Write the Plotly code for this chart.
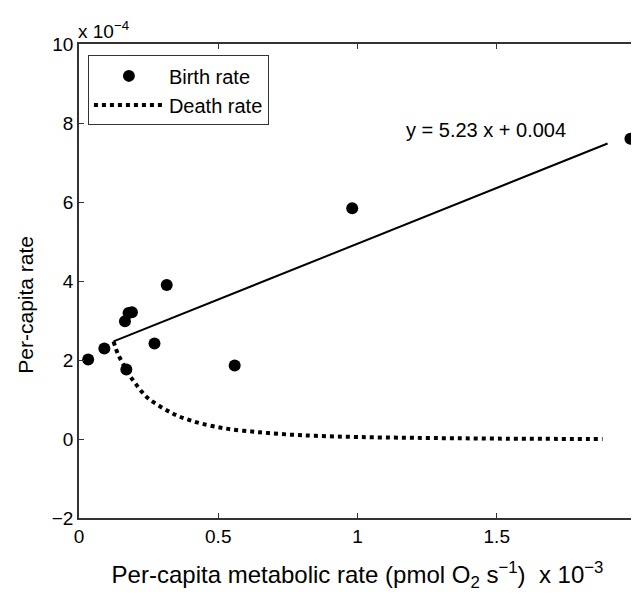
import plotly.graph_objects as go

# Birth rate observations (x in 1e-3 pmol O2/s, y in 1e-4)
birth_x = [0.033, 0.091, 0.170, 0.165, 0.178, 0.190, 0.315, 0.271, 0.559, 0.981, 1.98]
birth_y = [2.01, 2.29, 1.76, 2.98, 3.19, 3.21, 3.90, 2.42, 1.86, 5.84, 7.60]

# Fitted line endpoints
fit_x = [0.124, 1.898]
fit_y = [2.47, 7.48]

# Death rate curve
death_x = [0.124, 0.14, 0.16, 0.18, 0.20, 0.225, 0.25, 0.29, 0.33, 0.36, 0.40, 0.44, 0.50, 0.55, 0.62, 0.68, 0.76, 0.85, 1.0, 1.2, 1.5, 1.88]
death_y = [2.47, 2.15, 1.88, 1.63, 1.43, 1.20, 1.02, 0.83, 0.67, 0.57, 0.47, 0.39, 0.30, 0.24, 0.19, 0.15, 0.11, 0.08, 0.05, 0.03, 0.01, 0.0]

x_ticks = [0, 0.5, 1, 1.5, 2]
x_ticklabels = ["0", "0.5", "1", "1.5", "2"]
y_ticks = [-2, 0, 2, 4, 6, 8, 10]
y_ticklabels = ["\u22122", "0", "2", "4", "6", "8", "10"]

FONT = "Liberation Sans, Arial, sans-serif"

fig = go.Figure()
fig.add_trace(go.Scatter(x=fit_x, y=fit_y, mode="lines",
                         line=dict(color="black", width=2), showlegend=False))
fig.add_trace(go.Scatter(x=death_x, y=death_y, mode="lines", name="Death rate",
                         line=dict(color="black", width=4, dash="dot", shape="spline")))
fig.add_trace(go.Scatter(x=birth_x, y=birth_y, mode="markers", name="Birth rate",
                         cliponaxis=False,
                         marker=dict(color="black", size=12)))

axis_common = dict(showline=True, linecolor="#333", linewidth=1.5, mirror="ticks",
                   ticks="inside", ticklen=5, tickcolor="#333", showgrid=False,
                   zeroline=False, automargin=False,
                   tickfont=dict(family=FONT, size=19, color="black"))

fig.update_xaxes(range=[0, 2], tickvals=x_ticks, ticktext=x_ticklabels, **axis_common,
                 title=dict(text="Per-capita metabolic rate (pmol O<sub>2</sub> s<sup>\u22121</sup>)  x 10<sup>\u22123</sup>",
                            font=dict(family=FONT, size=24, color="black"), standoff=21))
fig.update_yaxes(range=[-2, 10], tickvals=y_ticks, ticktext=y_ticklabels, **axis_common)

fig.add_annotation(text="Per-capita rate", xref="paper", yref="paper", x=0, y=0.45,
                   xshift=-53, textangle=-90, showarrow=False,
                   font=dict(family=FONT, size=21, color="black"), xanchor="center", yanchor="middle")
fig.add_annotation(text="x 10<sup>\u22124</sup>", xref="paper", yref="paper", x=0, y=1,
                   xanchor="left", yanchor="bottom", showarrow=False, yshift=0, xshift=-3,
                   font=dict(family=FONT, size=19, color="black"))
fig.add_annotation(text="y = 5.23 x + 0.004", x=1.46, y=7.83, xanchor="center", yanchor="middle",
                   showarrow=False, font=dict(family=FONT, size=20, color="black"))

fig.update_layout(
    width=639, height=599,
    margin=dict(l=71, r=11, t=36, b=89),
    paper_bgcolor="white", plot_bgcolor="white",
    font=dict(family=FONT, color="black"),
    legend=dict(x=0.016, y=0.976, xanchor="left", yanchor="top",
                bordercolor="#333", borderwidth=1, bgcolor="white",
                font=dict(family=FONT, size=20, color="black"),
                itemwidth=70, traceorder="reversed", tracegroupgap=0),
)

fig.write_html("out.html")
